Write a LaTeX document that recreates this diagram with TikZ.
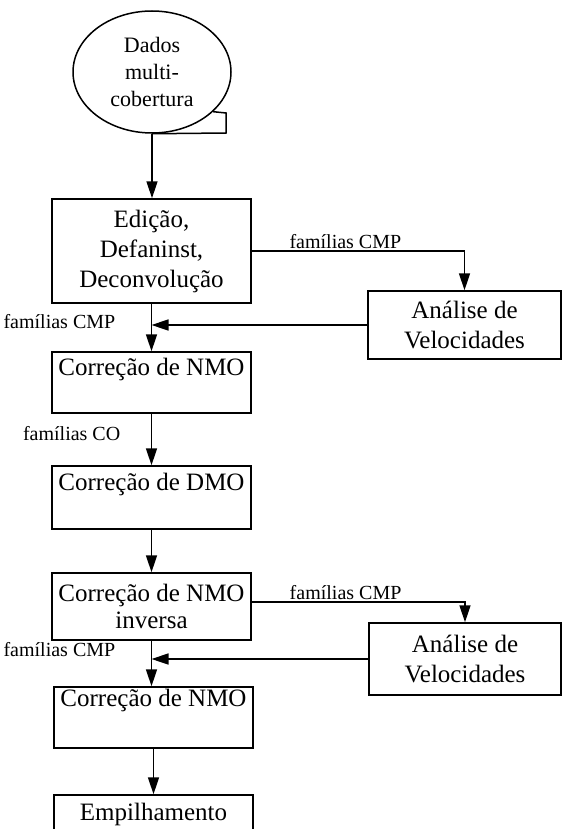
\documentclass[tikz,border=0pt]{standalone}
\usepackage{fontspec}
\setmainfont{Liberation Serif}
\usetikzlibrary{arrows.meta,shapes.geometric}

\tikzset{
  box/.style={draw, inner sep=0pt, minimum width=99.5pt, align=center,
    font=\fontsize{12.5}{15}\selectfont},
  lbl/.style={font=\fontsize{10}{12}\selectfont, inner sep=1pt},
  flow/.style={-{Triangle[length=8.5pt,width=5.5pt]}}
}

\begin{document}
\begin{tikzpicture}[x=0.5pt, y=-0.5pt, line width=0.75pt]

\useasboundingbox (0,0) rectangle (563,829);
\clip (0,0) rectangle (563,829);

% dados de entrada (fita)
\node[draw, ellipse, minimum width=79pt, minimum height=61pt, inner sep=0pt,
  align=center, font=\fontsize{11}{13.5}\selectfont] (dados) at (152,72)
  {Dados\\multi-\\cobertura};
\draw (dados.south) -- (226,133) -- (226,113) -- (dados.-33);

% caixas
\node[box, minimum height=52pt] (edicao) at (151.5,251) {Edição,\\Defaninst,\\Deconvolução};
\node[box, minimum width=96.5pt, minimum height=34pt] (vel1) at (464.5,325) {Análise de\\Velocidades};
\node[box, text height=11.5pt, text depth=19pt] (nmo1) at (151.5,382.5) {Correção de NMO};
\node[box, text height=12pt, text depth=19.5pt] (dmo) at (151.5,497.5) {Correção de DMO};
\node[box, minimum height=33.5pt, font=\fontsize{12.5}{13.5}\selectfont] (nmoinv) at (151.5,606.5) {Correção de NMO\\inversa};
\node[box, minimum width=96pt, minimum height=36pt] (vel2) at (465,659) {Análise de\\Velocidades};
\node[box, text height=9.8pt, text depth=20.7pt] (nmo2) at (153.5,717.5) {Correção de NMO};
\node[box, text height=12.5pt, text depth=30pt] (empilha) at (153.5,837.5) {Empilhamento};

% fluxo
\draw[flow] (dados.south) -- (dados.south |- edicao.north);
\draw[flow] (edicao.east) -| node[lbl, above, pos=0.22] (cmp1) {famílias CMP} (vel1.north);
\draw[flow] (edicao.south) -- (nmo1.north);
\draw[flow] (vel1.west) -- (vel1.west -| edicao.south);
\node[lbl, anchor=east] (cmp2) at (118,322) {famílias CMP};

\draw[flow] (nmo1.south) -- (dmo.north);
\node[lbl, anchor=east] (co) at (123,434) {famílias CO};
\draw[flow] (dmo.south) -- (nmoinv.north);

\draw[flow] ([yshift=2.25pt]nmoinv.east) -| node[lbl, above, pos=0.22] (cmp3) {famílias CMP} (vel2.north);
\draw[flow] (vel2.west) -- (vel2.west -| nmoinv.south);
\node[lbl, anchor=east] (cmp4) at (118,650) {famílias CMP};
\draw[flow] (nmoinv.south) -- (nmoinv.south |- nmo2.north);
\draw[flow] (nmo2.south) -- (empilha.north);

\end{tikzpicture}
\end{document}
